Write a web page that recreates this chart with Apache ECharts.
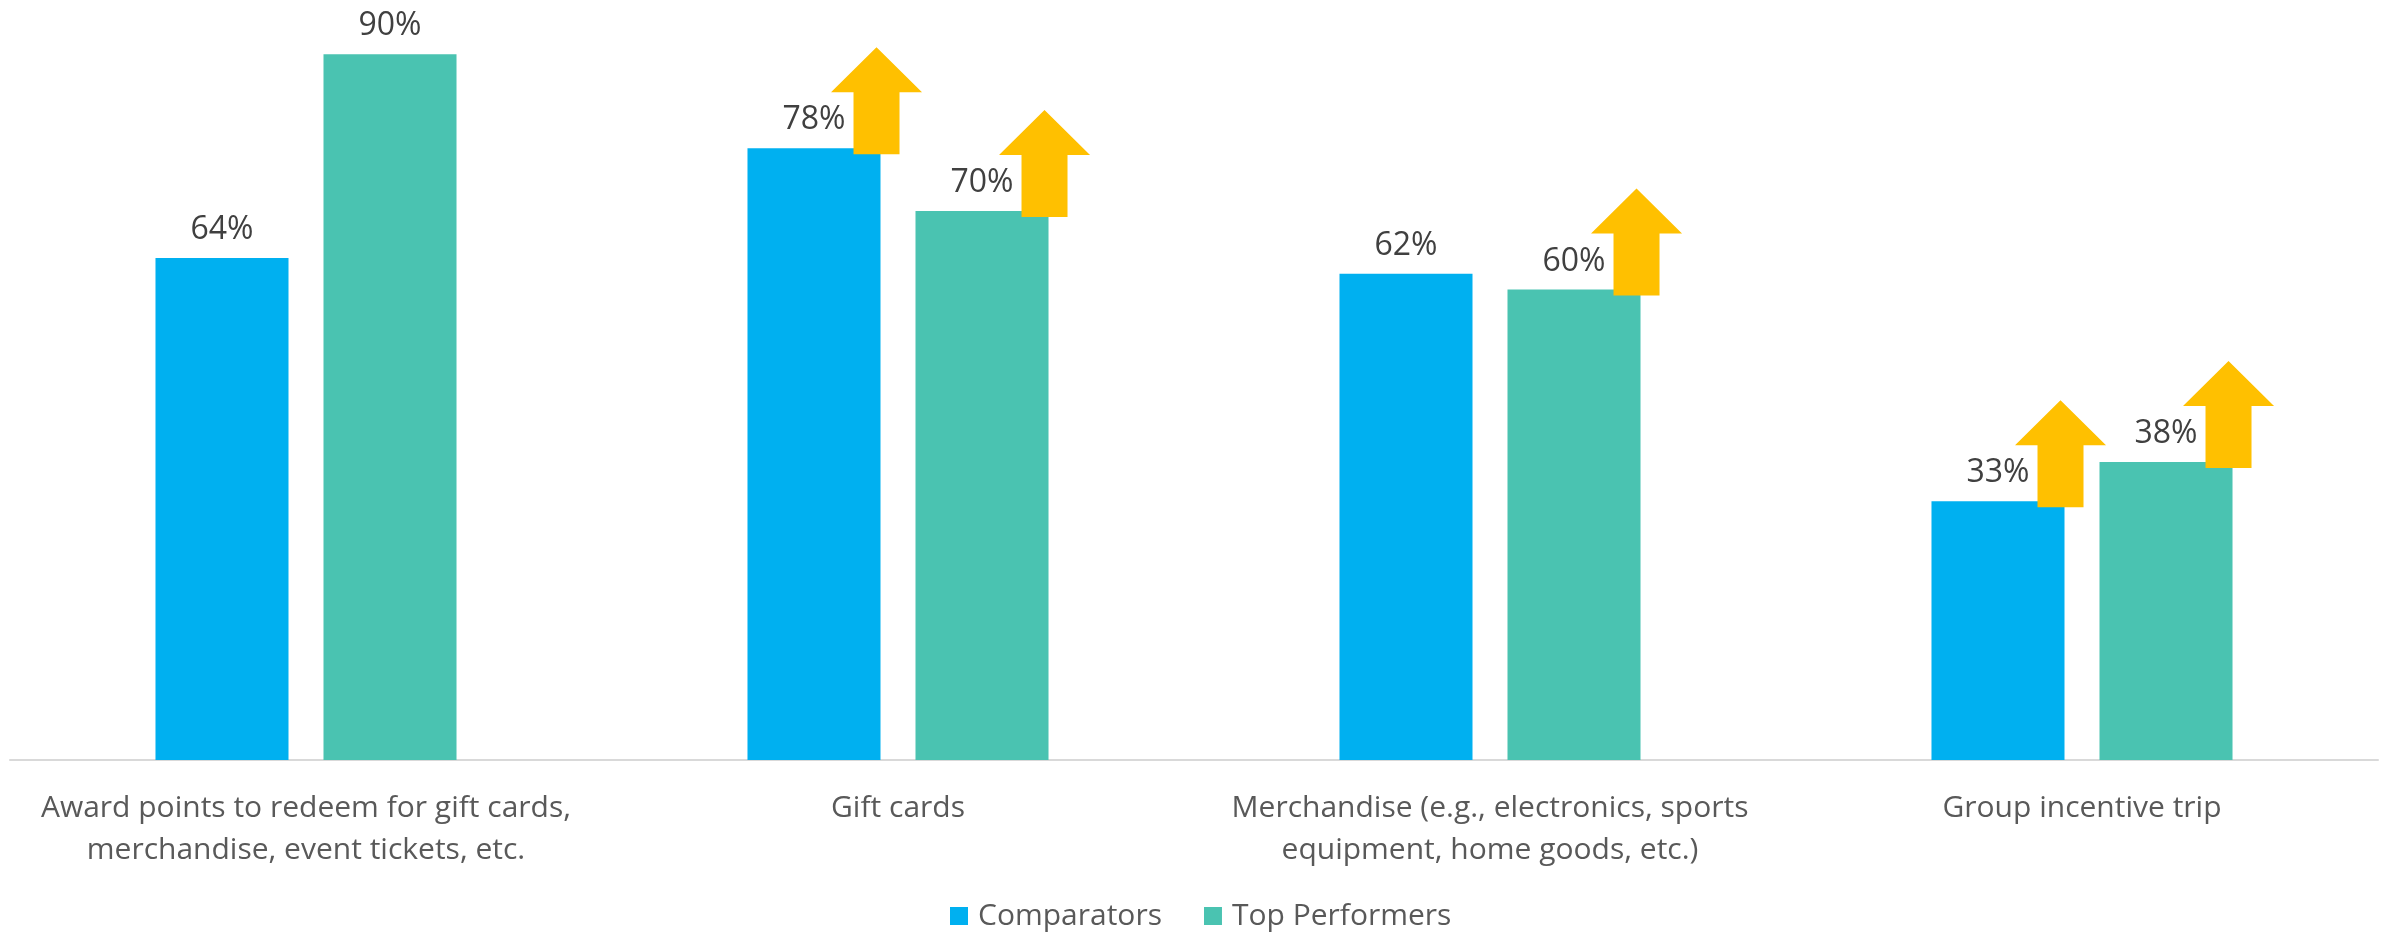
<!DOCTYPE html>
<html>
<head>
<meta charset="utf-8">
<script src="https://cdn.jsdelivr.net/npm/echarts@6/dist/echarts.min.js"></script>
<style>
html,body{margin:0;padding:0;background:#fff;}
#chart{width:2382px;height:938px;}
</style>
</head>
<body>
<div id="chart"></div>
<script>
const categories = [
  "Award points to redeem for gift cards,\nmerchandise, event tickets, etc.",
  "Gift cards",
  "Merchandise (e.g., electronics, sports\nequipment, home goods, etc.)",
  "Group incentive trip"
];
const seriesNames = ["Comparators", "Top Performers"];
const comparators = [64, 78, 62, 33];
const topPerformers = [90, 70, 60, 38];
// which bars carry an "up" arrow
const arrowComparators = [false, true, false, true];
const arrowTopPerformers = [false, true, true, true];

const FONT = '"Open Sans", "Noto Sans", sans-serif';
const BAR_W = 0.2247;   // bar width as share of category band
const BAR_GAP = 0.263;  // gap as share of bar width

const arrowData = [];
arrowComparators.forEach((f, i) => { if (f) arrowData.push([i, comparators[i], 0]); });
arrowTopPerformers.forEach((f, i) => { if (f) arrowData.push([i, topPerformers[i], 1]); });

const chart = echarts.init(document.getElementById('chart'), null, {renderer: 'canvas'});

const labelStyle = {
  show: true, position: 'top', distance: 12,
  formatter: p => p.value + '%',
  color: '#404040', fontSize: 32, fontFamily: FONT
};

chart.setOption({
  animation: false,
  backgroundColor: '#ffffff',
  grid: {left: 10, right: 4, top: 15, bottom: 178, containLabel: false},
  legend: {
    data: seriesNames,
    left: 945, top: 896,
    itemWidth: 18, itemHeight: 18, itemGap: 42,
    icon: 'rect',
    textStyle: {color: '#595959', fontSize: 30, fontFamily: FONT, padding: [0, 0, 0, 5]}
  },
  xAxis: {
    type: 'category',
    data: categories,
    axisLine: {show: true, lineStyle: {color: '#d9d9d9', width: 2}},
    axisTick: {show: false},
    axisLabel: {
      color: '#595959', fontSize: 30, fontFamily: FONT,
      lineHeight: 42, margin: 27, interval: 0
    }
  },
  yAxis: {
    type: 'value', min: 0, max: 95,
    show: false,
    splitLine: {show: false}
  },
  series: [
    {
      name: seriesNames[0], type: 'bar', data: comparators,
      barWidth: (BAR_W * 100) + '%', barGap: (BAR_GAP * 100) + '%',
      itemStyle: {color: '#00B0F0'},
      label: labelStyle
    },
    {
      name: seriesNames[1], type: 'bar', data: topPerformers,
      barWidth: (BAR_W * 100) + '%', barGap: (BAR_GAP * 100) + '%',
      itemStyle: {color: '#4AC3B1'},
      label: labelStyle
    },
    {
      name: 'arrows', type: 'custom', data: arrowData, z: 10,
      renderItem: function (params, api) {
        const cat = api.value(0), val = api.value(1), s = api.value(2);
        const pt = api.coord([cat, val]);
        const band = api.size([1, 0])[0];
        const bw = band * BAR_W;
        const gap = bw * BAR_GAP;
        const center = pt[0] + (s === 0 ? -1 : 1) * (bw + gap) / 2;
        const cx = center + bw / 2 - 4;
        const bottom = pt[1] + 6;
        const headW = 91, headH = 45, shaftW = 46, totalH = 107;
        const top = bottom - totalH;
        const hb = top + headH;
        return {
          type: 'polygon',
          shape: {points: [
            [cx, top], [cx + headW / 2, hb], [cx + shaftW / 2, hb],
            [cx + shaftW / 2, bottom], [cx - shaftW / 2, bottom],
            [cx - shaftW / 2, hb], [cx - headW / 2, hb]
          ]},
          style: {fill: '#FFC000'}
        };
      }
    }
  ]
});
</script>
</body>
</html>
